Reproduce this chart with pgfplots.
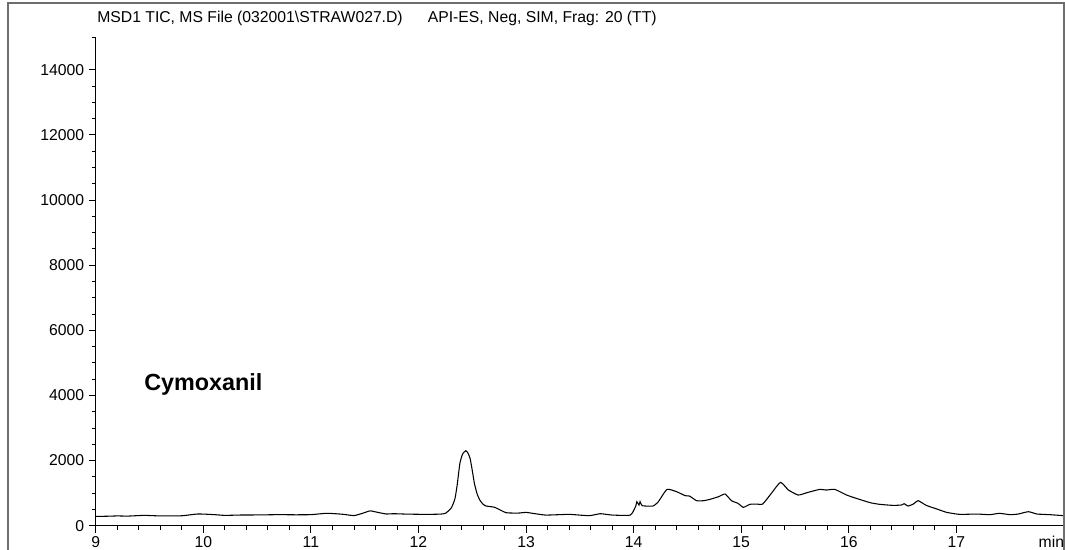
\documentclass[border=0pt]{standalone}
\usepackage{fontspec}
\setmainfont{Liberation Sans}
\usepackage{pgfplots}
\pgfplotsset{compat=1.18}
\definecolor{framegray}{RGB}{110,110,110}
\begin{document}
\begin{tikzpicture}
\clip (-71.8pt,-18.2pt) rectangle (727pt,394.3pt);
\begin{axis}[
  at={(0,0)}, anchor=south west,
  scale only axis, width=726.2pt, height=366.5pt,
  xmin=9, xmax=18, ymin=0, ymax=15000,
  axis x line*=bottom, axis y line*=left,
  axis line style={-, black, line width=0.6pt},
  xtick={9,10,...,17}, minor x tick num=4,
  ytick={0,2000,...,14000}, minor y tick num=3,
  extra y ticks={15000}, extra y tick labels={},
  extra y tick style={major tick length=3pt},
  scaled y ticks=false,
  tick align=outside,
  major tick length=5.25pt, minor tick length=3pt,
  tick style={black, line width=0.6pt},
  /pgf/number format/1000 sep={},
  /pgf/number format/assume math mode=true,
  ticklabel style={font=\fontsize{11.8}{13}\selectfont},
  xticklabel style={yshift=0.8pt},
  clip=false,
]
\addplot[black, line width=0.8pt, smooth, tension=0.3] table {
x y
9.00 286
9.10 290
9.20 300
9.30 295
9.45 317
9.60 300
9.80 305
9.95 360
10.10 340
10.20 317
10.35 328
10.50 330
10.70 339
10.85 335
11.00 339
11.15 381
11.30 350
11.40 310
11.48 380
11.55 455
11.62 410
11.70 360
11.77 368
11.90 355
12.08 348
12.20 355
12.25 379
12.30 520
12.32 650
12.34 839
12.36 1250
12.385 1913
12.41 2200
12.44 2302
12.46 2230
12.48 2066
12.50 1700
12.52 1299
12.545 980
12.57 788
12.60 660
12.63 604
12.71 563
12.815 399
12.94 389
13.00 409
13.18 327
13.40 348
13.585 307
13.69 368
13.80 327
13.97 327
14.02 604
14.03 737
14.05 634
14.06 737
14.08 614
14.18 604
14.23 737
14.31 1115
14.40 1043
14.48 921
14.52 910
14.585 768
14.65 768
14.71 809
14.79 891
14.85 972
14.91 768
14.97 686
15.02 563
15.08 655
15.14 665
15.20 665
15.28 992
15.365 1330
15.44 1094
15.53 941
15.61 1013
15.73 1115
15.79 1094
15.87 1115
15.98 941
16.07 839
16.20 706
16.29 655
16.41 624
16.49 635
16.515 676
16.55 604
16.60 665
16.645 768
16.72 624
16.82 511
16.91 409
17.03 348
17.19 358
17.31 338
17.40 379
17.50 338
17.575 358
17.67 430
17.75 358
17.87 338
18.00 307
};
\node[anchor=base west, inner sep=0pt, font=\fontsize{11.8}{13}\selectfont]
  at (rel axis cs:0,1) [xshift=1pt, yshift=11.25pt]
  {MSD1 TIC, MS File (032001\textbackslash STRAW027.D)\hspace{1.6em}API-ES, Neg, SIM, Frag: 20 (TT)};
\node[anchor=west, inner sep=0pt, font=\bfseries\fontsize{17.5}{20}\selectfont]
  at (axis cs:9.45,4350) {Cymoxanil};
\end{axis}
\node[anchor=base east, inner sep=0pt, font=\fontsize{11.8}{13}\selectfont] at (726.5pt,-16.4pt) {min};
\draw[framegray, line width=1.1pt] (-65.8pt,-60pt) -- (-65.8pt,392pt) -- (726.2pt,392pt) -- (726.2pt,-60pt);
\end{tikzpicture}
\end{document}
